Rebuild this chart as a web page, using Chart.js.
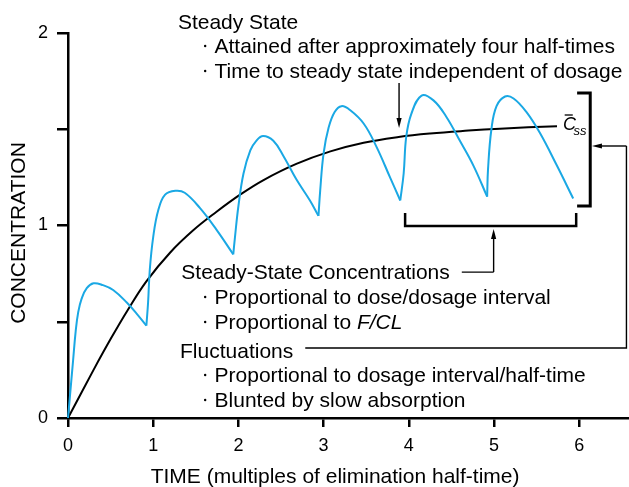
<!DOCTYPE html>
<html>
<head>
<meta charset="utf-8">
<script src="https://cdn.jsdelivr.net/npm/chart.js@4"></script>
<style>
  html, body { margin: 0; padding: 0; background: #fff; }
  #wrap { width: 629px; height: 487px; }
</style>
</head>
<body>
<div id="wrap"><canvas id="grafico"></canvas></div>
<script>
// time in elimination half-times, concentration
const dose1 = [[0, 0], [0.03, 0.15], [0.06, 0.30], [0.09, 0.45], [0.12, 0.55], [0.16, 0.62], [0.22, 0.675], [0.30, 0.70], [0.41, 0.69], [0.53, 0.665], [0.69, 0.60], [0.81, 0.54], [0.92, 0.48]];
const dose2 = [[0.92, 0.48], [0.94, 0.60], [0.96, 0.77], [1.00, 0.94], [1.06, 1.08], [1.14, 1.16], [1.26, 1.18], [1.37, 1.17], [1.55, 1.09], [1.74, 0.98], [1.94, 0.85]];
const dose3 = [[1.94, 0.85], [1.96, 0.94], [2.00, 1.10], [2.06, 1.27], [2.14, 1.39], [2.21, 1.44], [2.29, 1.465], [2.41, 1.44], [2.53, 1.36], [2.68, 1.24], [2.84, 1.13], [2.94, 1.05]];
const dose4 = [[2.94, 1.05], [2.96, 1.18], [3.00, 1.375], [3.06, 1.51], [3.13, 1.59], [3.21, 1.62], [3.31, 1.60], [3.47, 1.53], [3.62, 1.41], [3.78, 1.25], [3.90, 1.13]];
const dose5 = [[3.90, 1.13], [3.94, 1.27], [3.97, 1.46], [4.03, 1.58], [4.15, 1.675], [4.29, 1.65], [4.44, 1.565], [4.60, 1.44], [4.76, 1.31], [4.92, 1.15]];
const dose6 = [[4.92, 1.15], [4.93, 1.29], [4.97, 1.50], [5.03, 1.62], [5.13, 1.67], [5.23, 1.66], [5.38, 1.59], [5.54, 1.48], [5.74, 1.31], [5.93, 1.14]];
const mean = [[0, 0], [0.3, 0.25], [0.5, 0.41], [0.7, 0.56], [0.92, 0.71], [1.2, 0.86], [1.47, 0.975], [1.74, 1.07], [2.02, 1.16], [2.29, 1.235], [2.68, 1.32], [3.08, 1.385], [3.47, 1.43], [3.88, 1.46], [4.25, 1.478], [4.7, 1.493], [5.07, 1.503], [5.4, 1.51], [5.74, 1.515]];

const xTicks = [0, 1, 2, 3, 4, 5, 6];
const yTicks = [0, 0.5, 1, 1.5, 2];
const yLabels = ['0', '', '1', '', '2'];

const steadyNote = ['Steady State', 'Attained after approximately four half-times', 'Time to steady state independent of dosage'];
const concNote = ['Steady-State Concentrations', 'Proportional to dose/dosage interval', 'Proportional to ', 'F/CL'];
const flucNote = ['Fluctuations', 'Proportional to dosage interval/half-time', 'Blunted by slow absorption'];

const FONT = '"Liberation Sans", Arial, Helvetica, sans-serif';
const BLUE = '#1aa8e4';

const toPoints = arr => arr.map(p => ({ x: p[0], y: p[1] }));

const doseSets = [dose1, dose2, dose3, dose4, dose5, dose6].map((d, i) => ({
    label: 'dose ' + (i + 1),
    data: toPoints(d),
    borderColor: BLUE,
    borderWidth: 2,
    pointRadius: 0,
    showLine: true,
    tension: 0.4,
    clip: false
}));

function arrow(ctx, x1, y1, x2, y2) {
    const ang = Math.atan2(y2 - y1, x2 - x1);
    const len = 10, half = 2.6;
    ctx.beginPath();
    ctx.moveTo(x1, y1);
    ctx.lineTo(x2 - Math.cos(ang) * len * 0.6, y2 - Math.sin(ang) * len * 0.6);
    ctx.stroke();
    ctx.beginPath();
    ctx.moveTo(x2, y2);
    ctx.lineTo(x2 - Math.cos(ang) * len - Math.sin(ang) * half, y2 - Math.sin(ang) * len + Math.cos(ang) * half);
    ctx.lineTo(x2 - Math.cos(ang) * len + Math.sin(ang) * half, y2 - Math.sin(ang) * len - Math.cos(ang) * half);
    ctx.closePath();
    ctx.fill();
}

function bullet(ctx, X, Y, text, y) {
    ctx.beginPath();
    ctx.arc(X(1.61), Y(y) - 7, 1.2, 0, Math.PI * 2);
    ctx.fill();
    ctx.fillText(text, X(1.72), Y(y));
}

const annotations = {
    id: 'annotations',
    afterDraw(chart) {
        const ctx = chart.ctx;
        const X = v => chart.scales.x.getPixelForValue(v);
        const Y = v => chart.scales.y.getPixelForValue(v);
        ctx.save();
        ctx.fillStyle = '#000';
        ctx.strokeStyle = '#000';
        ctx.textBaseline = 'alphabetic';
        ctx.textAlign = 'left';
        ctx.font = '21px ' + FONT;

        // steady state block
        ctx.fillText(steadyNote[0], X(1.29), Y(2.02));
        bullet(ctx, X, Y, steadyNote[1], 1.896);
        bullet(ctx, X, Y, steadyNote[2], 1.766);

        // steady-state concentrations block
        ctx.fillText(concNote[0], X(1.33), Y(0.722));
        bullet(ctx, X, Y, concNote[1], 0.592);
        bullet(ctx, X, Y, concNote[2], 0.462);
        const w = ctx.measureText(concNote[2]).width;
        ctx.font = 'italic 21px ' + FONT;
        ctx.fillText(concNote[3], X(1.72) + w, Y(0.462));
        ctx.font = '21px ' + FONT;
        const concEnd = X(1.33) + ctx.measureText(concNote[0]).width;

        // fluctuations block
        ctx.fillText(flucNote[0], X(1.315), Y(0.312));
        bullet(ctx, X, Y, flucNote[1], 0.187);
        bullet(ctx, X, Y, flucNote[2], 0.057);
        const flucEnd = X(1.315) + ctx.measureText(flucNote[0]).width;

        // axis titles
        ctx.textAlign = 'center';
        ctx.fillText('TIME (multiples of elimination half-time)', X(3.135), Y(-0.338));
        ctx.save();
        ctx.translate(X(-0.57), Y(0.961));
        ctx.rotate(-Math.PI / 2);
        ctx.textBaseline = 'middle';
        ctx.fillText('CONCENTRATION', 0, 0);
        ctx.restore();

        // C-bar ss label
        ctx.textAlign = 'left';
        ctx.font = 'italic 18px ' + FONT;
        ctx.fillText('C', X(5.81), Y(1.496));
        ctx.font = 'italic 13px ' + FONT;
        ctx.fillText('ss', X(5.935), Y(1.47));
        ctx.lineWidth = 1.3;
        ctx.beginPath();
        ctx.moveTo(X(5.83), Y(1.574));
        ctx.lineTo(X(5.925), Y(1.574));
        ctx.stroke();

        // arrow to the mean curve
        ctx.lineWidth = 1.4;
        arrow(ctx, X(3.886), Y(1.74), X(3.886), Y(1.506));

        // right bracket (fluctuation)
        ctx.lineWidth = 3;
        ctx.beginPath();
        ctx.moveTo(X(5.976), Y(1.688));
        ctx.lineTo(X(6.13), Y(1.688));
        ctx.lineTo(X(6.13), Y(1.101));
        ctx.lineTo(X(5.976), Y(1.101));
        ctx.stroke();

        // bottom bracket (steady-state range)
        ctx.lineWidth = 2.5;
        ctx.beginPath();
        ctx.moveTo(X(3.957), Y(1.065));
        ctx.lineTo(X(3.957), Y(0.997));
        ctx.lineTo(X(5.965), Y(0.997));
        ctx.lineTo(X(5.965), Y(1.065));
        ctx.stroke();

        // connector from concentrations text
        ctx.lineWidth = 1.4;
        ctx.beginPath();
        ctx.moveTo(concEnd + 12, Y(0.758));
        ctx.lineTo(X(4.996), Y(0.758));
        ctx.stroke();
        arrow(ctx, X(4.996), Y(0.758), X(4.996), Y(0.982));

        // connector from fluctuations text
        ctx.beginPath();
        ctx.moveTo(flucEnd + 12, Y(0.364));
        ctx.lineTo(X(6.555), Y(0.364));
        ctx.lineTo(X(6.555), Y(1.413));
        ctx.stroke();
        arrow(ctx, X(6.555), Y(1.413), X(6.15), Y(1.413));

        ctx.restore();
    }
};

new Chart(document.getElementById('grafico'), {
    type: 'scatter',
    data: {
        datasets: doseSets.concat([{
            label: 'mean',
            data: toPoints(mean),
            borderColor: '#000',
            borderWidth: 2,
            pointRadius: 0,
            showLine: true,
            tension: 0.4,
            clip: false
        }])
    },
    options: {
        responsive: true,
        maintainAspectRatio: false,
        animation: false,
        layout: { padding: { top: 33, right: 0, left: 0, bottom: 0 } },
        plugins: {
            legend: { display: false },
            tooltip: { enabled: false }
        },
        scales: {
            x: {
                type: 'linear',
                min: 0,
                max: 6.585,
                afterBuildTicks: s => { s.ticks = xTicks.map(v => ({ value: v })); },
                afterFit: s => { s.height = 69; },
                ticks: {
                    color: '#000',
                    font: { family: FONT, size: 18 },
                    padding: 8,
                    maxRotation: 0,
                    autoSkip: false
                },
                grid: { drawOnChartArea: false, drawTicks: true, tickLength: 9, color: '#000', lineWidth: 2.5 },
                border: { display: true, color: '#000', width: 2.5 }
            },
            y: {
                type: 'linear',
                min: 0,
                max: 2,
                afterBuildTicks: s => { s.ticks = yTicks.map(v => ({ value: v })); },
                afterFit: s => { s.width = 68; },
                ticks: {
                    color: '#000',
                    font: { family: FONT, size: 18 },
                    padding: 9,
                    autoSkip: false,
                    callback: (v, i) => yLabels[i]
                },
                grid: { drawOnChartArea: false, drawTicks: true, tickLength: 11, color: '#000', lineWidth: 2.5 },
                border: { display: true, color: '#000', width: 2.5 }
            }
        }
    },
    plugins: [annotations]
});
</script>
</body>
</html>
